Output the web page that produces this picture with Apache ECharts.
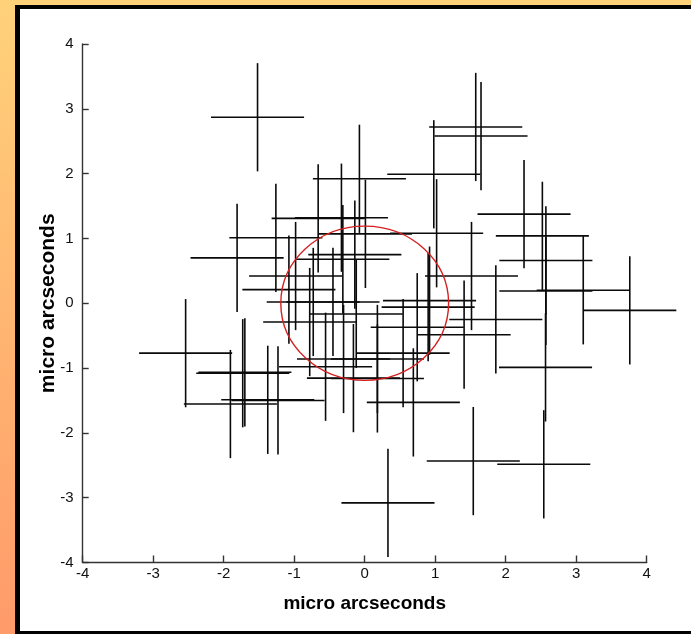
<!DOCTYPE html>
<html>
<head>
<meta charset="utf-8">
<title>micro arcseconds</title>
<script src="https://cdn.jsdelivr.net/npm/echarts@6/dist/echarts.min.js"></script>
<style>
    html, body {
        margin: 0;
        width: 691px;
        height: 634px;
        overflow: hidden;
        background: linear-gradient(#ffd27a, #ff9a6a);
    }
    #frame {
        position: absolute;
        left: 15px;
        top: 5px;
        width: 671px;
        height: 622px;
        background: #fff;
        border-left: 5px solid #000;
        border-top: 4px solid #000;
        border-bottom: 3px solid #000;
    }
    #chart {
        position: absolute;
        left: 0;
        top: 0;
        width: 691px;
        height: 634px;
    }
</style>
</head>
<body>
<div id="frame"></div>
<div id="chart"></div>
<script>
    // centres of the crosses (micro arcseconds)
    var crossX = [-1.52, 1.575, 1.65, 0.98, -0.075, 2.26, -0.66, -0.33, 0.01, 1.02,
        -1.26, 2.52, -0.14, -0.31, -1.81, 2.57, 1.515, -0.98, -1.075, 2.57,
        3.10, -0.73, -0.45, 0.92, 0.90, 3.76, -0.12, 1.86, -0.78, 0.745,
        1.41, 0.545, -2.54, -0.30, 0.18, -0.555, 2.565, -1.73, -1.70, -0.16,
        0.18, -1.905, -1.375, -1.23, 0.69, 1.54, 2.54, 0.33];
    var crossY = [2.87, 2.72, 2.58, 1.99, 1.92, 1.375, 1.31, 1.32, 1.07, 1.08,
        1.01, 1.04, 0.75, 0.68, 0.70, 0.66, 0.42, 0.42, 0.21, 0.19,
        0.20, 0.02, 0.02, 0.04, -0.06, -0.11, -0.165, -0.25, -0.29, -0.37,
        -0.485, -0.77, -0.77, -0.86, -0.86, -0.98, -0.99, -1.08, -1.065, -1.155,
        -1.16, -1.555, -1.49, -1.50, -1.53, -2.435, -2.485, -3.08];
    // half length of the error bars
    var errX = 0.66;
    var errY = 0.835;
    // red circle
    var circleCenter = [0, 0];
    var circleRadius = 1.19;

    var crossData = [];
    crossX.forEach(function (x, i) {
        crossData.push([x, crossY[i]]);
    });

    var labelFont = {
        fontFamily: 'Liberation Sans Narrow, Liberation Sans, Arial, sans-serif',
        fontSize: 15,
        color: '#111'
    };

    var myChart = echarts.init(document.getElementById('chart'));
    myChart.setOption({
        animation: false,
        grid: {
            left: 82.7,
            right: 44.3,
            top: 44,
            bottom: 71.5
        },
        xAxis: {
            type: 'value',
            min: -4,
            max: 4,
            interval: 1,
            name: 'micro arcseconds',
            nameLocation: 'middle',
            nameGap: 32,
            nameMoveOverlap: false,
            nameTextStyle: {
                fontFamily: 'Liberation Sans, Arial, sans-serif',
                fontWeight: 'bold',
                fontSize: 19,
                color: '#000'
            },
            axisLine: { onZero: false, lineStyle: { color: '#333', width: 1.4 } },
            axisTick: { inside: true, length: 7, lineStyle: { color: '#333', width: 1.4 } },
            axisLabel: Object.assign({ margin: 4 }, labelFont),
            splitLine: { show: false }
        },
        yAxis: {
            type: 'value',
            min: -4,
            max: 4,
            interval: 1,
            name: 'micro arcseconds',
            nameLocation: 'middle',
            nameGap: 24,
            nameMoveOverlap: false,
            nameRotate: 90,
            nameTextStyle: {
                fontFamily: 'Liberation Sans, Arial, sans-serif',
                fontWeight: 'bold',
                fontSize: 21,
                color: '#000'
            },
            axisLine: { onZero: false, lineStyle: { color: '#333', width: 1.4 } },
            axisTick: { inside: true, length: 6, lineStyle: { color: '#333', width: 1.4 } },
            axisLabel: Object.assign({ margin: 9 }, labelFont),
            splitLine: { show: false }
        },
        series: [{
            type: 'custom',
            name: 'crosses',
            z: 2,
            data: crossData,
            renderItem: function (params, api) {
                var x = api.value(0);
                var y = api.value(1);
                var left = api.coord([x - errX, y]);
                var right = api.coord([x + errX, y]);
                var top = api.coord([x, y + errY]);
                var bottom = api.coord([x, y - errY]);
                var style = { stroke: '#0a0a0a', lineWidth: 1.6 };
                return {
                    type: 'group',
                    children: [{
                        type: 'line',
                        shape: { x1: left[0], y1: left[1], x2: right[0], y2: right[1] },
                        style: style
                    }, {
                        type: 'line',
                        shape: { x1: top[0], y1: top[1], x2: bottom[0], y2: bottom[1] },
                        style: style
                    }]
                };
            }
        }, {
            type: 'custom',
            name: 'circle',
            z: 3,
            data: [[circleCenter[0], circleCenter[1], circleRadius]],
            renderItem: function (params, api) {
                var c = api.coord([api.value(0), api.value(1)]);
                var r = api.value(2);
                var rx = api.coord([api.value(0) + r, api.value(1)])[0] - c[0];
                var ry = c[1] - api.coord([api.value(0), api.value(1) + r])[1];
                return {
                    type: 'ellipse',
                    shape: { cx: c[0], cy: c[1], rx: rx, ry: ry },
                    style: { stroke: '#d62020', lineWidth: 1.4, fill: null }
                };
            }
        }]
    });
</script>
</body>
</html>
